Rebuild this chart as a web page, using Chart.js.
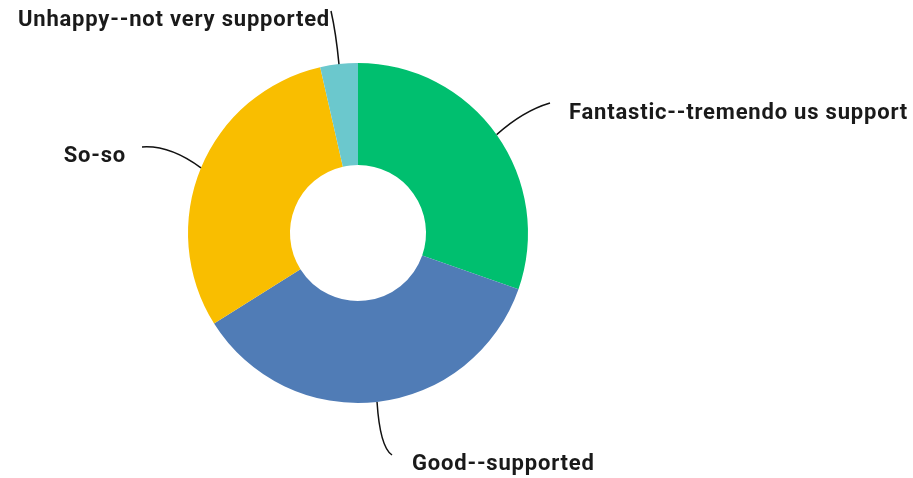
<!DOCTYPE html>
<html>
<head>
<meta charset="utf-8">
<script src="https://cdn.jsdelivr.net/npm/chart.js@4/dist/chart.umd.min.js"></script>
<style>
html,body{margin:0;padding:0;background:#fff;}
#wrap{width:913px;height:478px;position:relative;}
</style>
</head>
<body>
<div id="wrap"><canvas id="c" width="913" height="478"></canvas></div>
<script>
const categories = ["Fantastic--tremendo us support", "Good--supported", "So-so", "Unhappy--not very supported"];
const values = [17, 20, 17, 2];
const colors = ["#00BF6F", "#507CB6", "#F9BE00", "#6BC8CD"];

// label layout (relative to chart center): end of leader line, control point, text anchor (baseline)
const labelLayout = [
  {end:[192,-130], ctrl:[165,-122], text:[211,-114], align:'left'},
  {end:[34,222], ctrl:[22,214], text:[54,237], align:'left'},
  {end:[-216,-86], ctrl:[-188,-88], text:[-232,-71], align:'right'},
  {end:[-27,-222], ctrl:[-22,-200], text:[-28,-207], align:'right'}
];

const labelPlugin = {
  id:'labels',
  afterDatasetsDraw(chart){
    const ctx = chart.ctx;
    const meta = chart.getDatasetMeta(0);
    ctx.save();
    ctx.font = 'bold 22px Roboto, "Liberation Sans", sans-serif';
    if ('letterSpacing' in ctx) ctx.letterSpacing = '0.8px';
    ctx.fillStyle = '#1a1a1a';
    ctx.textBaseline = 'alphabetic';
    meta.data.forEach((arc, i) => {
      const p = arc.getProps(['x','y','startAngle','endAngle','outerRadius'], true);
      const mid = (p.startAngle + p.endAngle)/2;
      const sx = p.x + Math.cos(mid)*p.outerRadius;
      const sy = p.y + Math.sin(mid)*p.outerRadius;
      const L = labelLayout[i];
      ctx.beginPath();
      ctx.strokeStyle = '#111';
      ctx.lineWidth = 1.5;
      ctx.moveTo(sx, sy);
      ctx.quadraticCurveTo(p.x + L.ctrl[0], p.y + L.ctrl[1], p.x + L.end[0], p.y + L.end[1]);
      ctx.stroke();
      ctx.textAlign = L.align;
      ctx.fillText(categories[i], p.x + L.text[0], p.y + L.text[1]);
    });
    ctx.restore();
  }
};

new Chart(document.getElementById('c'), {
  type:'doughnut',
  data:{
    labels: categories,
    datasets:[{data: values, backgroundColor: colors, borderWidth:0, hoverOffset:0}]
  },
  options:{
    responsive:false,
    animation:false,
    cutout:'40%',
    layout:{padding:{top:63, bottom:75, left:100, right:297}},
    plugins:{legend:{display:false}, tooltip:{enabled:false}}
  },
  plugins:[labelPlugin]
});
</script>
</body>
</html>
